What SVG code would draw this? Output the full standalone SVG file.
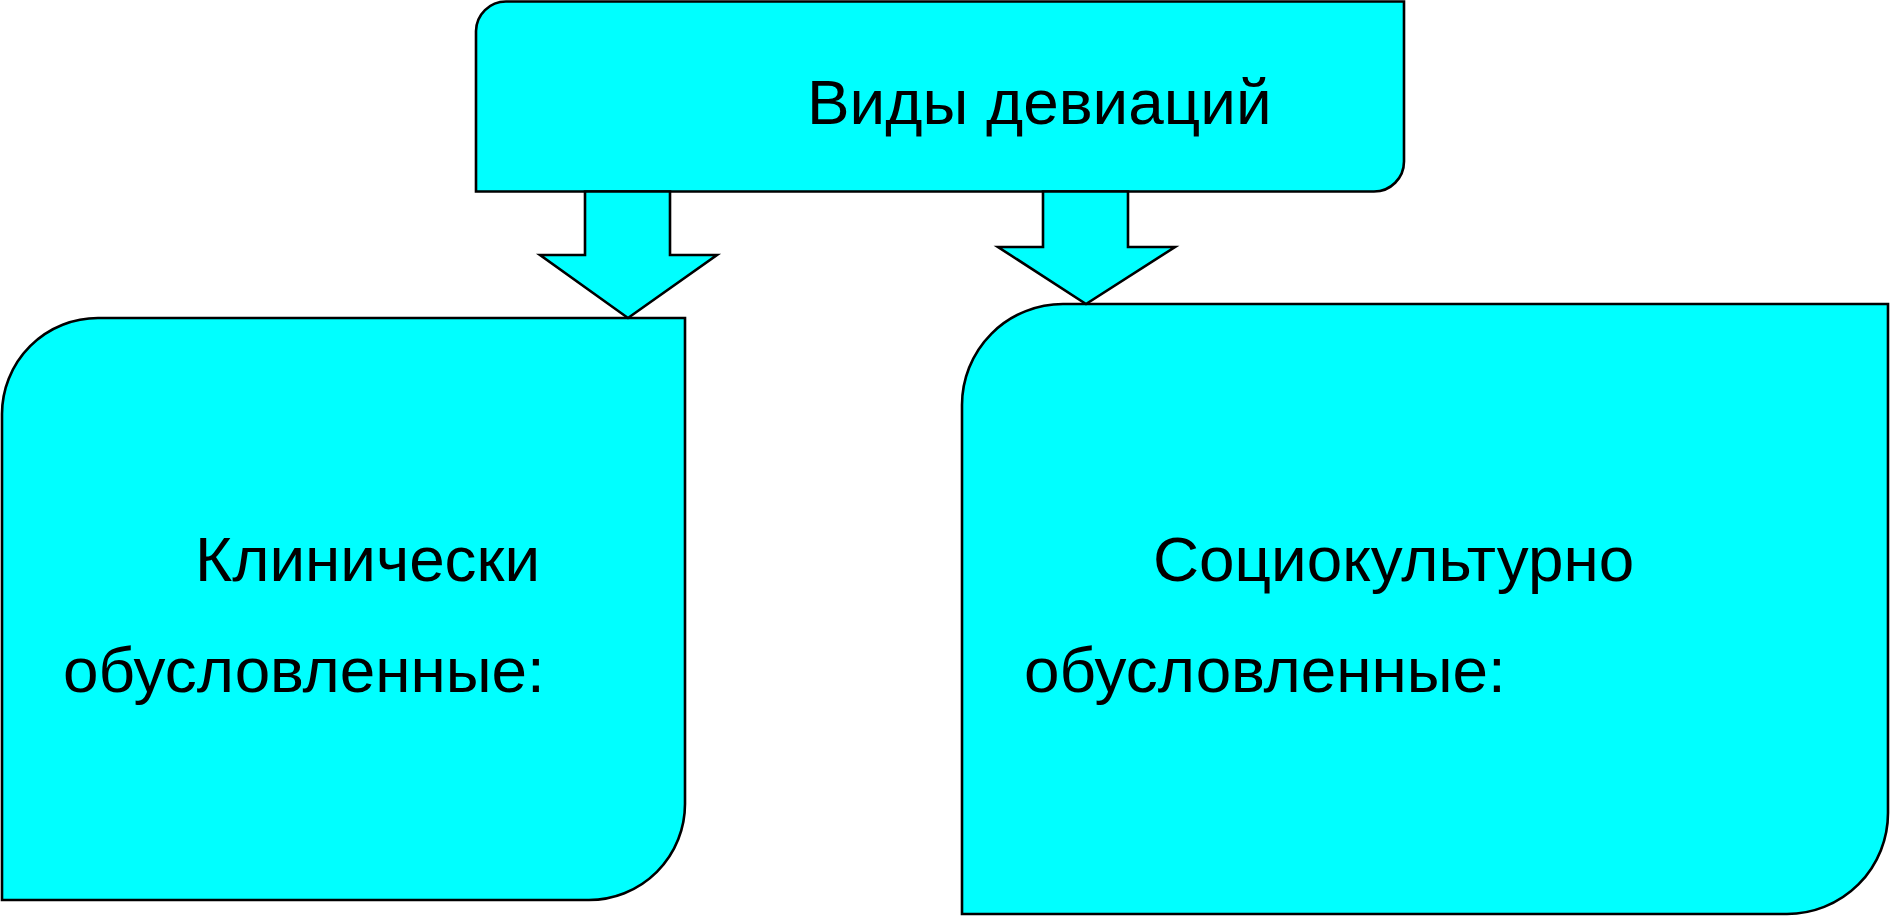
<svg xmlns="http://www.w3.org/2000/svg" width="1890" height="917" viewBox="0 0 1890 917">
<style>
.box{fill:#00FFFF;stroke:#000;stroke-width:2.6;stroke-linejoin:miter}
.arrow{fill:#00FFFF;stroke:#000;stroke-width:2.6;stroke-linejoin:miter}
.t{font-family:"Liberation Sans",Arial,sans-serif;fill:#000;font-size:63.8px}
</style>
<rect width="1890" height="917" fill="#fff"/>
<g id="node-top">
<path class="box" d="M476,191.5 V31 A30,30 0 0 1 506,1.5 H1404 V161.5 A30,30 0 0 1 1374,191.5 Z"/>
<text class="t" x="807" y="124">Виды девиаций</text>
</g>
<g id="node-left">
<path class="box" d="M2,900 V414 A96,96 0 0 1 98,318 H685 V804 A96,96 0 0 1 589,900 Z"/>
<text class="t" x="195" y="581">Клинически</text>
<text class="t" x="63" y="692">обусловленные:</text>
</g>
<g id="node-right">
<path class="box" d="M962,914 V405 A101,101 0 0 1 1063,304 H1888 V813 A101,101 0 0 1 1787,914 Z"/>
<text class="t" x="1153" y="581">Социокультурно</text>
<text class="t" x="1024" y="692">обусловленные:</text>
</g>
<g id="connectors">
<path class="arrow" d="M585,191.5 H670 V255 H717 L628,318 L540,255 H585 Z"/>
<path class="arrow" d="M1043,191.5 H1128 V247 H1175 L1086,304 L998,247 H1043 Z"/>
</g>
</svg>
